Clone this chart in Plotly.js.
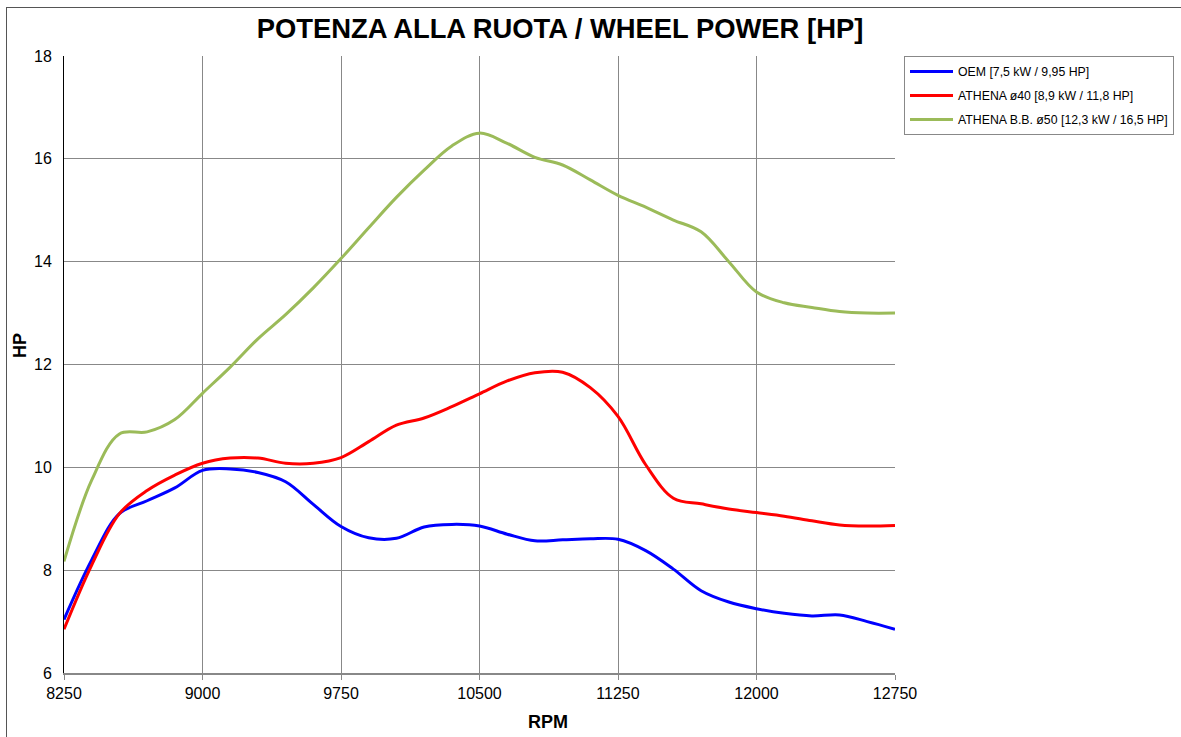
<!DOCTYPE html>
<html>
<head>
<meta charset="utf-8">
<script src="https://cdn.plot.ly/plotly-3.0.1.min.js"></script>
<style>
  html, body { margin: 0; padding: 0; background: #fff; overflow: hidden; }
  #chart { width: 1181px; height: 737px; }
  #frame { position: absolute; left: 6px; top: 7px; width: 1185px; height: 745px; border: 1px solid #555; pointer-events: none; }
</style>
</head>
<body>
<div id="chart"></div>
<div id="frame"></div>
<script>
const rpm = [8250, 8400, 8550, 8700, 8850, 9000, 9150, 9300, 9450, 9600, 9750, 9900, 10050, 10200, 10350, 10500, 10650, 10800, 10950, 11100, 11250, 11400, 11550, 11700, 11850, 12000, 12150, 12300, 12450, 12600, 12750];

const oemHP = [7.04, 8.2, 9.1, 9.35, 9.6, 9.94, 9.97, 9.9, 9.72, 9.28, 8.85, 8.63, 8.62, 8.84, 8.89, 8.86, 8.7, 8.57, 8.59, 8.61, 8.6, 8.38, 8.02, 7.6, 7.38, 7.25, 7.16, 7.11, 7.13, 7.0, 6.85];

const athena40HP = [6.85, 8.1, 9.1, 9.55, 9.85, 10.08, 10.18, 10.18, 10.08, 10.08, 10.19, 10.5, 10.82, 10.96, 11.18, 11.43, 11.68, 11.84, 11.85, 11.55, 10.99, 10.05, 9.4, 9.29, 9.19, 9.12, 9.05, 8.96, 8.88, 8.86, 8.87];

const athena50HP = [8.17, 9.75, 10.65, 10.69, 10.93, 11.44, 11.95, 12.5, 12.97, 13.49, 14.06, 14.66, 15.25, 15.78, 16.25, 16.5, 16.3, 16.03, 15.88, 15.59, 15.29, 15.06, 14.81, 14.58, 14.0, 13.41, 13.2, 13.11, 13.03, 13.0, 13.0];

const seriesNames = ["OEM [7,5 kW / 9,95 HP]", "ATHENA ø40 [8,9 kW / 11,8 HP]", "ATHENA B.B. ø50 [12,3 kW / 16,5 HP]"];
const xTicks = [8250, 9000, 9750, 10500, 11250, 12000, 12750];
const yTicks = [6, 8, 10, 12, 14, 16, 18];

const titleText = "POTENZA ALLA RUOTA / WHEEL POWER [HP]";
const xTitle = "RPM";
const yTitle = "HP";

const colors = ["#0000FF", "#FF0000", "#9BBB59"];
const ys = [oemHP, athena40HP, athena50HP];

const traces = ys.map((y, i) => ({
  x: rpm, y: y, type: "scatter", mode: "lines",
  name: seriesNames[i],
  legendgroup: "g" + i,
  line: { color: colors[i], width: 3, shape: "spline", smoothing: 1 }
}));

const font = "Liberation Sans, Arial, sans-serif";

const layout = {
  width: 1181, height: 737,
  margin: { l: 64, r: 286, t: 56, b: 64 },
  paper_bgcolor: "#fff", plot_bgcolor: "#fff",
  font: { family: font, color: "#000", size: 16 },
  title: { text: "<b>" + titleText + "</b>", font: { family: font, size: 27.4, color: "#000" },
           x: 560 / 1181, xref: "container", xanchor: "center",
           y: 1 - 28 / 737, yref: "container", yanchor: "middle" },
  xaxis: {
    range: [8250, 12750], tickmode: "array", tickvals: xTicks, ticktext: xTicks.map(String),
    showgrid: true, gridcolor: "#888", gridwidth: 1,
    showline: true, linecolor: "#888", linewidth: 2,
    ticks: "outside", ticklen: 5, tickcolor: "#888",
    zeroline: false, tickfont: { size: 16, family: font }, fixedrange: true
  },
  yaxis: {
    range: [6, 18], tickmode: "array", tickvals: yTicks, ticktext: yTicks.map(String),
    showgrid: true, gridcolor: "#888", gridwidth: 1,
    showline: true, linecolor: "#000", linewidth: 1,
    ticks: "", ticklabelstandoff: 8,
    zeroline: false, tickfont: { size: 16, family: font }, fixedrange: true
  },
  legend: {
    xref: "container", yref: "container",
    x: 904 / 1181, xanchor: "left", y: 1 - 56 / 737, yanchor: "top",
    bordercolor: "#888", borderwidth: 1, bgcolor: "#fff",
    font: { size: 12.3, family: font, color: "#000" },
    tracegroupgap: 5, itemwidth: 43
  },
  annotations: [
    { text: "<b>" + xTitle + "</b>", xref: "paper", yref: "paper",
      x: (548 - 64) / 831, y: -(722 - 673) / 617, xanchor: "center", yanchor: "middle",
      showarrow: false, font: { size: 18, family: font, color: "#000" } },
    { text: "<b>" + yTitle + "</b>", xref: "paper", yref: "paper", textangle: -90,
      x: -(64 - 20) / 831, y: (673 - 346) / 617, xanchor: "center", yanchor: "middle",
      showarrow: false, font: { size: 18, family: font, color: "#000" } }
  ],
  showlegend: true
};

Plotly.newPlot("chart", traces, layout, { displayModeBar: false, staticPlot: true });
</script>
</body>
</html>
